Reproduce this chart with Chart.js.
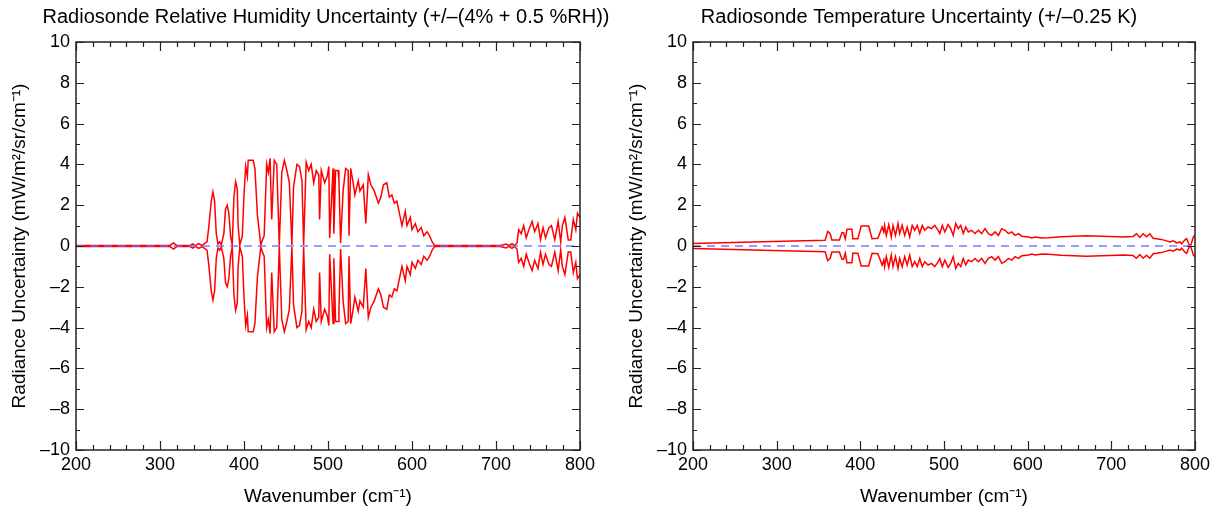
<!DOCTYPE html>
<html>
<head>
<meta charset="utf-8">
<script src="https://cdn.jsdelivr.net/npm/chart.js@4.4.1/dist/chart.umd.min.js"></script>
<style>
  html, body { margin: 0; padding: 0; background: #fff; }
  body { width: 1224px; height: 512px; position: relative; overflow: hidden; }
  .panel { position: absolute; top: 0; height: 512px; }
</style>
</head>
<body>
<div class="panel" style="left:0;width:652px"><canvas id="rhChart"></canvas></div>
<div class="panel" style="left:614px;width:610px"><canvas id="tChart"></canvas></div>
<script>
// axis ranges / ticks
const xRange = [200, 800];
const yRange = [-10, 10];

// humidity panel: wavenumber (cm-1) and half-width of the uncertainty envelope
const rhWavenumber = [
  200, 250, 300, 312, 316, 320, 336, 339, 342, 346,
  350, 356, 358, 361, 363, 365, 367, 369, 371, 373,
  376, 378, 380, 382, 384, 386, 388, 390, 392, 393,
  395, 398, 400, 402, 404, 405, 411, 413, 416, 420,
  422, 424, 427, 429, 431, 433, 436, 439, 442, 445,
  448, 451, 454, 457, 459, 463, 466, 469, 471, 474,
  477, 480, 483, 486, 489, 490, 492, 496, 499, 501,
  502, 506, 507, 509, 512, 513, 515, 518, 521, 524,
  525, 527, 530, 532, 536, 538, 542, 545, 548, 551,
  555, 560, 563, 566, 570, 573, 576, 579, 582, 586,
  588, 592, 594, 598, 600, 604, 607, 611, 614, 618,
  621, 624, 627, 660, 705, 712, 715, 719, 722, 725,
  727, 730, 733, 736, 740, 743, 746, 750, 753, 756,
  759, 763, 766, 770, 774, 777, 779, 782, 786, 789,
  792, 795, 797, 800
];
const rhAmp = [
  0.02, 0.02, 0.03, 0.03, 0.15, 0.03, 0.03, 0.10, 0.02, 0.12,
  0.03, 0.2, 0.9, 2.2, 2.65, 2.2, 0.6, 0.1, 0.2, 0.05,
  0.6, 1.8, 2.0, 1.6, 0.5, 0.05, 2.4, 3.15, 2.8, 1.0,
  0.05, 0.5, 2.5, 3.9, 3.4, 4.2, 4.2, 3.8, 1.5, 0.05,
  0.3, 0.5, 4.0, 3.6, 4.3, 1.3, 4.2, 4.0, 0.0, 3.6,
  4.2, 3.7, 3.1, 0.05, 2.9, 4.0, 3.9, 3.2, 0.05, 4.1,
  3.7, 4.0, 3.1, 3.7, 3.5, 1.3, 3.7, 3.1, 3.4, 3.9,
  0.4, 3.8, 0.6, 3.7, 3.7, 3.2, 0.15, 2.7, 3.8, 3.7,
  0.5, 3.8, 3.1, 2.5, 3.2, 2.7, 3.0, 1.1, 3.5, 3.0,
  2.7, 2.1, 2.4, 3.0, 3.1, 2.4, 2.5, 2.1, 2.2, 1.4,
  1.0, 1.7, 1.0, 1.4, 0.8, 1.1, 0.7, 0.9, 0.5, 0.7,
  0.5, 0.2, 0.02, 0.02, 0.02, 0.1, 0.02, 0.12, 0.02, 0.15,
  0.8, 0.6, 1.0, 0.4, 0.9, 1.2, 0.7, 1.1, 0.3, 0.9,
  0.4, 0.9, 1.0, 0.3, 1.2, 0.2, 1.0, 1.4, 0.3, 0.3,
  1.3, 0.8, 1.6, 1.4
];

// temperature panel
const tWavenumber = [
  200, 260, 320, 358, 361, 364, 366, 375, 378, 380,
  382, 384, 390, 391, 397, 401, 410, 414, 421, 426,
  428, 429, 431, 434, 437, 439, 442, 445, 447, 450,
  453, 456, 459, 462, 465, 468, 471, 474, 477, 481,
  485, 489, 493, 495, 498, 501, 505, 508, 511, 514,
  517, 520, 523, 526, 529, 533, 537, 541, 545, 549,
  553, 557, 561, 565, 569, 573, 577, 581, 585, 589,
  593, 601, 605, 609, 617, 625, 640, 670, 698, 714,
  726, 730, 734, 738, 742, 746, 750, 754, 758, 762,
  766, 770, 774, 778, 782, 784, 788, 790, 793, 795,
  797, 798, 800
];
const tAmp = [
  0.12, 0.18, 0.25, 0.28, 0.72, 0.6, 0.3, 0.3, 0.65, 0.65,
  0.35, 0.82, 0.82, 0.35, 0.35, 0.98, 0.98, 0.36, 0.38, 0.93,
  0.69, 1.01, 0.52, 1.05, 0.44, 1.01, 0.52, 1.10, 0.61, 1.01,
  0.52, 0.93, 0.44, 1.01, 0.77, 1.01, 0.61, 1.01, 0.77, 0.93,
  0.85, 1.01, 0.77, 0.61, 1.01, 0.69, 1.05, 0.85, 0.52, 1.10,
  0.85, 1.01, 0.61, 0.93, 0.69, 0.77, 0.61, 0.77, 0.61, 0.85,
  0.61, 0.52, 0.69, 0.52, 0.85, 0.77, 0.61, 0.69, 0.52, 0.61,
  0.48, 0.44, 0.39, 0.44, 0.39, 0.40, 0.45, 0.50, 0.47, 0.44,
  0.47, 0.6, 0.42, 0.6, 0.45, 0.6, 0.38, 0.36, 0.33, 0.3,
  0.25, 0.2, 0.25, 0.15, 0.2, 0.11, 0.3, 0.36, 0.05, 0.03,
  0.3, 0.44, 0.52
];

const FONT = "'Liberation Sans', Arial, Helvetica, sans-serif";

// box around the plot + inward major/minor ticks on all four sides
const frameTicks = {
  id: 'frameTicks',
  afterDraw(chart) {
    const { ctx, chartArea: a } = chart;
    const x = chart.scales.x, y = chart.scales.y;
    ctx.save();
    ctx.strokeStyle = '#222';
    ctx.lineWidth = 1.5;
    ctx.strokeRect(a.left, a.top, a.right - a.left, a.bottom - a.top);
    ctx.lineWidth = 1.2;
    ctx.beginPath();
    for (let v = x.min; v <= x.max; v += 20) {
      const px = Math.round(x.getPixelForValue(v)) + 0.5;
      const len = v % 100 === 0 ? 9 : 5;
      ctx.moveTo(px, a.bottom); ctx.lineTo(px, a.bottom - len);
      ctx.moveTo(px, a.top); ctx.lineTo(px, a.top + len);
    }
    for (let v = y.min; v <= y.max; v += 1) {
      const py = Math.round(y.getPixelForValue(v)) + 0.5;
      const len = v % 2 === 0 ? 8 : 4;
      ctx.moveTo(a.left, py); ctx.lineTo(a.left + len, py);
      ctx.moveTo(a.right, py); ctx.lineTo(a.right - len, py);
    }
    ctx.stroke();
    ctx.restore();
  }
};

const dash = v => String(v).replace('-', '\u2013');

function makePanel(id, title, wn, amp, leftW, rightW, yTitlePad) {
  const upper = wn.map((w, i) => ({ x: w, y: amp[i] }));
  const lower = wn.map((w, i) => ({ x: w, y: -amp[i] }));
  const zero = xRange.map(w => ({ x: w, y: 0 }));

  return new Chart(document.getElementById(id), {
    type: 'line',
    data: {
      datasets: [
        { data: zero, borderColor: 'rgba(110,110,255,0.9)', borderWidth: 1.6, borderDash: [8, 6], pointRadius: 0 },
        { data: upper, borderColor: '#ff0000', borderWidth: 1.5, pointRadius: 0, tension: 0 },
        { data: lower, borderColor: '#ff0000', borderWidth: 1.5, pointRadius: 0, tension: 0 }
      ]
    },
    options: {
      responsive: true,
      maintainAspectRatio: false,
      animation: false,
      layout: { padding: 0 },
      plugins: {
        legend: { display: false },
        tooltip: { enabled: false },
        title: {
          display: true,
          text: title,
          color: '#000',
          font: { family: FONT, size: 20, weight: 'normal', lineHeight: 1.2 },
          padding: { top: 5, bottom: 13 }
        }
      },
      scales: {
        x: {
          type: 'linear',
          min: xRange[0], max: xRange[1],
          grid: { display: false, drawTicks: false },
          border: { display: false },
          ticks: { stepSize: 100, color: '#000', padding: 4, maxRotation: 0, font: { family: FONT, size: 18 } },
          title: {
            display: true, text: 'Wavenumber (cm\u207B\u00B9)', color: '#000',
            font: { family: FONT, size: 19 }, padding: { top: 0, bottom: 3.6 }
          },
          afterFit: s => { s.height = 62; }
        },
        y: {
          min: yRange[0], max: yRange[1],
          grid: { display: false, drawTicks: false },
          border: { display: false },
          ticks: { stepSize: 2, color: '#000', padding: 6, callback: dash, font: { family: FONT, size: 18 } },
          title: {
            display: true, text: 'Radiance Uncertainty (mW/m\u00B2/sr/cm\u207B\u00B9)', color: '#000',
            font: { family: FONT, size: 19 }, padding: { top: yTitlePad, bottom: 0 }
          },
          afterFit: s => { s.width = leftW; }
        },
        // spacer on the right so the title stays centred on the panel
        yr: {
          position: 'right',
          grid: { display: false, drawTicks: false },
          border: { display: false },
          ticks: { display: false },
          afterFit: s => { s.width = rightW; }
        }
      }
    },
    plugins: [frameTicks]
  });
}

makePanel('rhChart', 'Radiosonde Relative Humidity Uncertainty (+/\u2013(4% + 0.5 %RH))', rhWavenumber, rhAmp, 76, 72, 8.6);
makePanel('tChart', 'Radiosonde Temperature Uncertainty (+/\u20130.25 K)', tWavenumber, tAmp, 79, 29, 11.6);
</script>
</body>
</html>
